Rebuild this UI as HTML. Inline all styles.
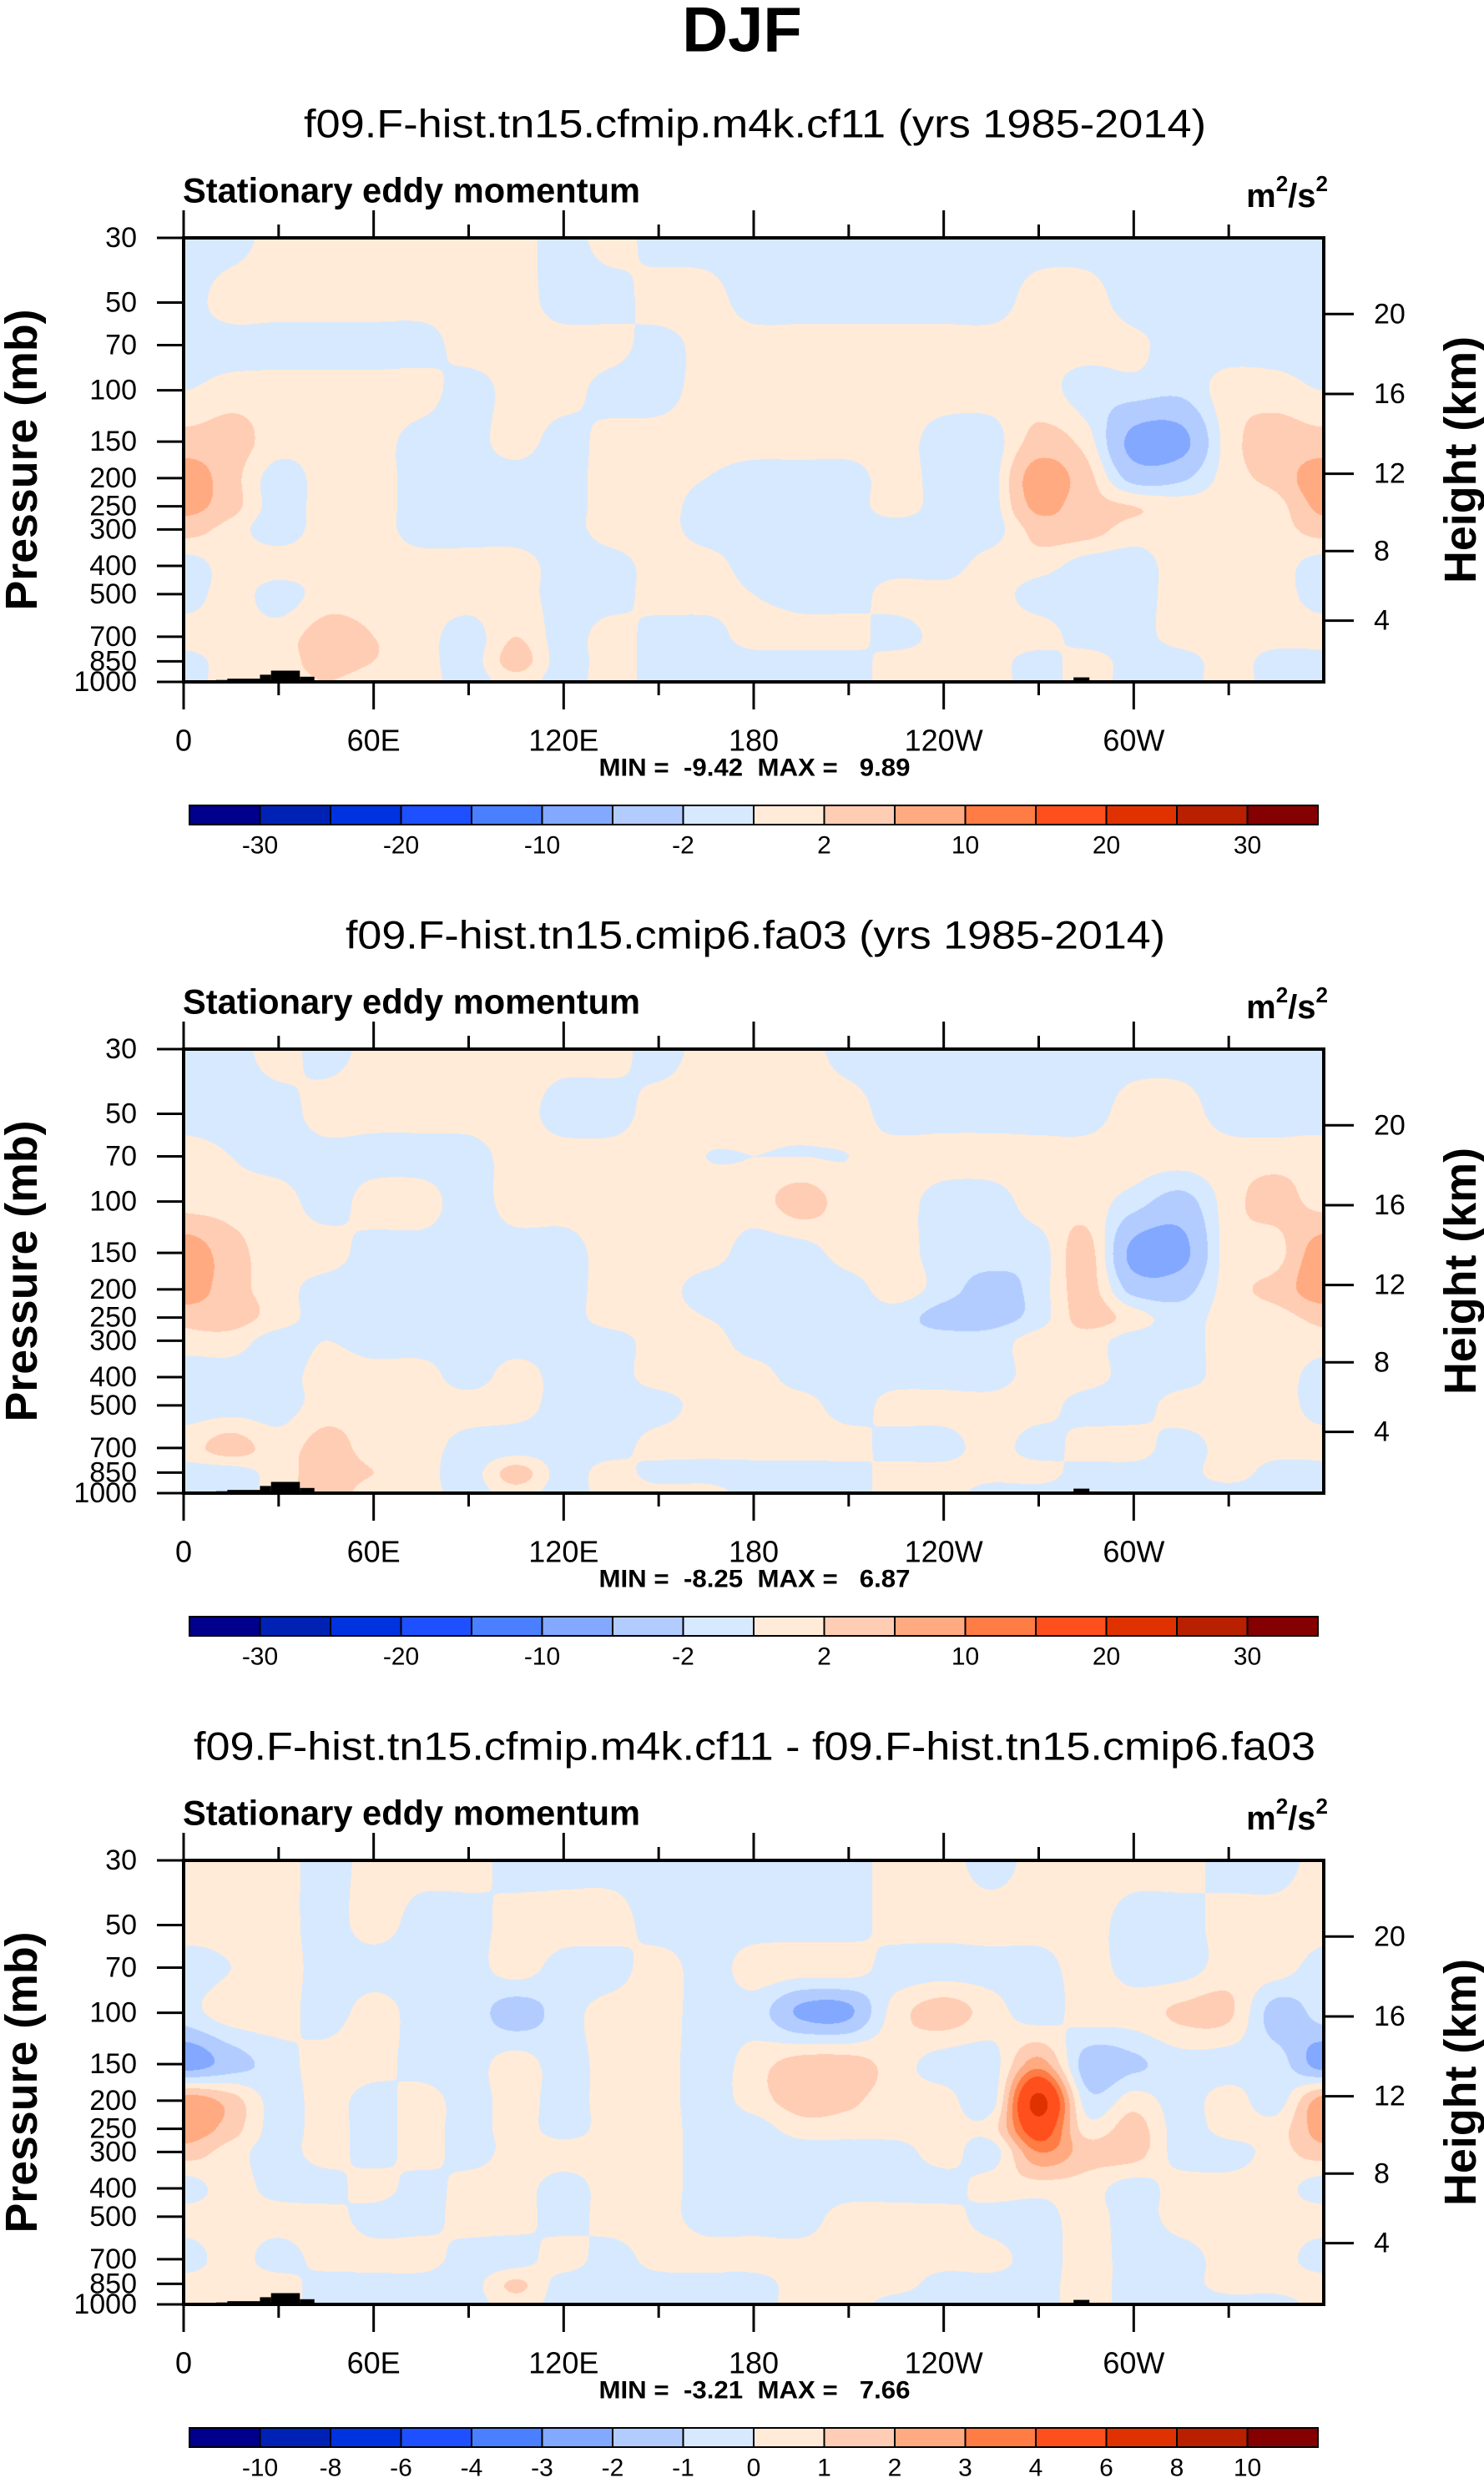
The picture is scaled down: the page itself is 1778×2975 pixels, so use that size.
<!DOCTYPE html>
<html><head><meta charset="utf-8"><title>DJF Stationary eddy momentum</title>
<style>
html,body{margin:0;padding:0;background:#fff;}
#wrap{position:relative;width:1778px;height:2975px;overflow:hidden;}
canvas{position:absolute;left:220px;}
svg{position:absolute;left:0;top:0;}
text{font-family:"Liberation Sans",Arial,sans-serif;fill:#000;}
</style></head>
<body>
<div id="wrap">
<canvas id="c0" width="1366" height="532" style="top:285px"></canvas>
<canvas id="c1" width="1366" height="532" style="top:1257px"></canvas>
<canvas id="c2" width="1366" height="532" style="top:2229px"></canvas>
<svg id="svg" width="1778" height="2975" xmlns="http://www.w3.org/2000/svg"></svg>
</div>
<script>
// ---- data ----
const pressureLevels = [30,50,70,100,150,200,250,300,400,500,700,850,1000];
const lonStep = 15; // 24 columns, 0..345
const heightTicks = [4,8,12,16,20];
const xTickLons = [0,60,120,180,240,300];
const xTickLabels = ["0","60E","120E","180","120W","60W"];
const colors16 = ['#00008c','#0022b4','#0033e0','#1e50ff','#4a7fff','#82a8ff','#b2ccff','#d6e9ff','#ffebd8','#ffcdb4','#ffaa80','#ff7c44','#ff4f1c','#e03200','#b82000','#850000'];
const levelsA = [-30,-25,-20,-15,-10,-5,-2,0,2,5,10,15,20,25,30];
const levelsB = [-10,-8,-6,-4,-3,-2,-1,0,1,2,3,4,6,8,10];
const cbLabelsA = ["-30","-20","-10","-2","2","10","20","30"];
const cbLabelIdxA = [0,2,4,6,8,10,12,14];
const cbLabelsB = ["-10","-8","-6","-4","-3","-2","-1","0","1","2","3","4","6","8","10"];
const cbLabelIdxB = [0,1,2,3,4,5,6,7,8,9,10,11,12,13,14];
const titles = ["f09.F-hist.tn15.cfmip.m4k.cf11 (yrs 1985-2014)","f09.F-hist.tn15.cmip6.fa03 (yrs 1985-2014)","f09.F-hist.tn15.cfmip.m4k.cf11 - f09.F-hist.tn15.cmip6.fa03"];
const minVals = ["-9.42","-8.25","-3.21"];
const maxVals = ["9.89","6.87","7.66"];
const topoStart = [10.3,13.8,24.1,27.6,36.7,100,110,281,286];
const topoEnd   = [13.8,24.1,27.6,36.7,41.3,103,189,286,311];
const topoP     = [985,975,945,915,960,990,993,965,990];

const field1 = [
[-1,-1,1,1,1,1,1,1,-1,1,-1,-1,-1,-1,-1,-1,-1,-1,-1,-1,-1,-1,-1,-1],
[-1,1,1,1,1,1,1,1,-1,-1,1,1,-1,-1,-1,-1,-1,-1,1,1,-1,-1,-1,-1],
[-1,-1,-1,-1,-1,-1,1,1,1,1,-1,1,1,1,1,1,1,1,1,1,0.5,-1,-1,-1],
[0,1,1,1,1,1,-1,1,1,-1,-1,1,1,1,1,1,1,1,1,-1,-1,-1.5,1,1],
[3,3,1,1,1,-1,-1,1,-1,1,1,1,1,1,1,1,-1,-1,3,1,-6,-6,1,3],
[7,3,-1,1,1,-1,-1,-1,-1,1,1,0,-1,-1,-1,1,-1,-1,7,3,-3,-2.5,1,3],
[6,3,-1,1,1,-1,-1,-1,-1,1,1,-1,-1,-1,-1,1,-1,-1,6,3,2,1,1,1],
[3,1,-1,1,1,-1,-1,-1,-1,1,1,-1,-1,-1,-1,-1,-1,-1,3,3,1,1,1,1],
[-1,1,1,1,1,1,1,1,-1,-1,1,1,-1,-1,-1,-1,-1,1,1,-1,-1,1,1,1],
[-1,1,-1,1,1,1,1,1,-1,-1,1,1,0,-1,-1,1,1,1,-1,-1,-1,1,1,1],
[1,1,1,3,2,1,-1,2,-1,1,-1,-1,1,1,1,-1,1,1,1,-1,-1,1,1,1],
[-1,1,1,3,2,1,-1,3,-1,1,-1,-1,-1,-1,-1,1,1,1,-1,1,-1,-1,1,-1],
[-1,1,1,2,1,1,-1,1,-1,1,-1,-1,-1,-1,-1,1,1,1,-1,1,-1,-1,1,-1]
];
const field2 = [
[-1,-1,1,-1,1,1,1,1,1,1,-1,1,1,1,-1,-1,-1,-1,-1,-1,-1,-1,-1,-1],
[-1,-1,-1,1,1,1,1,1,-1,-1,1,1,1,1,1,-1,-1,-1,-1,-1,1,1,-1,-1],
[1,0,-1,-1,-1,-1,-1,1,1,1,1,0,0,0,0,1,1,1,1,1,1,1,1,1],
[1,1,1,-1,1,1,-1,1,1,1,1,1,1,3,1,1,-1,-1,1,1,-1,-3,1,3],
[7,3,1,1,-1,-1,-1,-1,-1,1,1,1,-1,-1,1,1,-1,-1,-1,3,-6,-6,1,1],
[7,3,1,-1,-1,-1,-1,-1,-1,1,1,-1,-1,-1.5,-1,1,-1,-3,-1,3,-3,-3,1,3],
[3,3,1,-1,-1,-1,-1,-1,-1,1,1,0,-1,-1,-1,-1,-3,-3,-1,3,1,-1,1,1],
[1,1,-1,0,-1,-1,-1,-1,-1,-1,1,1,-1,-1,-1,-1,-1,-1,1,1,-1,-1,1,1],
[-1,-1,-1,1,1,1,-1,1,-1,-1,1,1,1,-1,-1,-1,-1,-1,1,1,-1,-1,1,1],
[-1,-1,-1,1,1,1,1,1,-1,-1,-1,1,1,1,-1,1,1,1,1,-1,-1,1,1,1],
[1,3,1,3,1,1,-1,-1,-1,-1,1,1,1,1,1,-1,-1,1,-1,1,1,-1,1,1],
[-1,-1,1,3,2,1,-1,3,-1,1,-1,-1,-1,-1,-1,1,1,1,1,-1,-1,-1,1,-1],
[-1,-1,1,3,1,1,-1,1,-1,1,1,1,-1,-1,-1,1,1,-1,-1,-1,-1,-1,-1,-1]
];
const field3 = [
[.5,.5,.5,-.5,.5,.5,.5,-.5,-.5,-.5,-.5,-.5,-.5,-.5,-.5,.5,.5,-.5,.5,.5,.5,.5,-.5,-.5],
[.5,.5,.5,-.5,.5,-.5,-.5,.5,.5,.5,-.5,-.5,-.5,-.5,-.5,.5,.5,.5,.5,.5,-.5,-.5,.5,.5],
[-.5,0,.5,-.5,-.5,-.5,-.5,.5,-.5,-.5,.5,-.5,.5,.5,.5,-.5,-.5,-.5,-.5,.5,-.5,-.5,.5,.5],
[-.5,.5,.5,-.5,.5,-.5,-.5,-1.5,-.5,.5,.5,-.5,-.5,-2.2,-2.2,.5,1.5,.5,-.5,.5,.5,1.2,1.2,-1.5],
[-2.5,-1.5,-.5,.5,.5,-.5,-.5,.5,-.5,.5,.5,-.5,.5,1.5,1.5,.5,-.5,-.5,2.5,-1.5,-1.2,-.5,-.5,-.5],
[2.5,1.5,-.5,.5,-.5,.5,-.5,.5,-.5,.5,.5,-.5,.5,1.5,1.2,.5,.5,-.5,6.5,-.5,.5,-.5,.5,-.5],
[2.5,1.5,-.5,.5,-.5,.5,-.5,.5,-.5,.5,.5,-.5,-.5,.5,.5,.5,.5,.5,5,.5,1.5,-.5,.5,.5],
[1.5,.5,-.5,.5,-.5,.5,-.5,.5,.5,.5,.5,-.5,-.5,-.5,-.5,-.5,.5,-.5,3,1.5,1.5,-.5,-.5,.5],
[-.5,.5,-.5,-.5,.5,-.5,.5,.5,-.5,.5,.5,-.5,-.5,-.5,-.5,-.5,-.5,.5,.5,.5,-.5,.5,.5,.5],
[.5,.5,.5,.5,-.5,-.5,.5,.5,-.5,.5,.5,-.5,-.5,-.5,.5,.5,.5,-.5,-.5,.5,-.5,.5,.5,.5],
[-.5,.5,-.5,.5,.5,.5,-.5,-.5,.5,-.5,.5,.5,.5,.5,.5,.5,.5,.5,-.5,.5,-.5,-.5,.5,.5],
[.5,.5,.5,-.5,-.5,-.5,-.5,1.2,-.5,-.5,-.5,-.5,-.5,.5,.5,.5,-.5,-.5,-.5,.5,-.5,-.5,.5,.5],
[.5,.5,.5,-.5,-.5,-.5,-.5,.5,-.5,-.5,-.5,-.5,-.5,.5,.5,-.5,-.5,-.5,-.5,.5,-.5,-.5,-.5,-.5]
];

// ---- layout ----
const FX0 = 220, FW = 1366, FH = 532;
const panelTops = [285, 1257, 2229];
const fields = [field1, field2, field3];
const levelSets = [levelsA, levelsA, levelsB];
const LP0 = Math.log10(30), LP1 = Math.log10(1000);
function yOfP(p){ return (Math.log10(p) - LP0) / (LP1 - LP0) * FH; }
function xOfLon(l){ return l / 360 * FW; }
function pOfZkm(z){ const m = z*1000; if (m <= 11000) return 1013.25*Math.pow(1-2.25577e-5*m, 5.25588); return 226.32*Math.exp(-(m-11000)/6341.6); }
function hexToRgb(h){ return [parseInt(h.substr(1,2),16),parseInt(h.substr(3,2),16),parseInt(h.substr(5,2),16)]; }
const rgb16 = colors16.map(hexToRgb);
function cr(p0,p1,p2,p3,t){ return 0.5*((2*p1)+(-p0+p2)*t+(2*p0-5*p1+4*p2-p3)*t*t+(-p0+3*p1-3*p2+p3)*t*t*t); }

// ---- fill contours ----
const logP = pressureLevels.map(p => Math.log10(p));
fields.forEach((field, k) => {
  const cv = document.getElementById('c' + k);
  const ctx = cv.getContext('2d');
  const img = ctx.createImageData(FW, FH);
  const levels = levelSets[k];
  const ncol = field[0].length, nrow = field.length;
  // precompute column-interpolated rows per pixel x
  const colInterp = [];
  for (let r = 0; r < nrow; r++) {
    const row = field[r], arr = new Float32Array(FW);
    for (let px = 0; px < FW; px++) {
      const c = (px + 0.5) / FW * 360 / lonStep;
      const ci = Math.floor(c), s = c - ci;
      const a = row[(ci-1+ncol)%ncol], b = row[ci%ncol], d = row[(ci+1)%ncol], e = row[(ci+2)%ncol];
      arr[px] = cr(a,b,d,e,s);
    }
    colInterp.push(arr);
  }
  for (let py = 0; py < FH; py++) {
    const lp = LP0 + (py + 0.5) / FH * (LP1 - LP0);
    let i = 0; while (i < logP.length - 2 && lp > logP[i+1]) i++;
    const t = Math.min(1, Math.max(0, (lp - logP[i]) / (logP[i+1] - logP[i])));
    const R0 = colInterp[Math.max(0,i-1)], R1 = colInterp[i], R2 = colInterp[i+1], R3 = colInterp[Math.min(nrow-1,i+2)];
    for (let px = 0; px < FW; px++) {
      const v = cr(R0[px], R1[px], R2[px], R3[px], t);
      let ci = 0; while (ci < levels.length && v >= levels[ci]) ci++;
      const col = rgb16[ci]; const o = (py*FW + px)*4;
      img.data[o]=col[0]; img.data[o+1]=col[1]; img.data[o+2]=col[2]; img.data[o+3]=255;
    }
  }
  ctx.putImageData(img, 0, 0);
});

// ---- svg axes ----
const svg = document.getElementById('svg');
const NS = 'http://www.w3.org/2000/svg';
function el(tag, attrs, parent){ const e = document.createElementNS(NS, tag); for (const a in attrs) e.setAttribute(a, attrs[a]); (parent||svg).appendChild(e); return e; }

let t0 = el('text', {x:889, y:36, 'font-size':76, 'font-weight':'bold', 'text-anchor':'middle', 'dominant-baseline':'central'});


t0.textContent = 'DJF';

panelTops.forEach((top, k) => {
  const g = el('g', {});
  
  
  const bot = top + FH, xr = FX0 + FW;
  const titleX = [364, 414, 232], titleW = [1081, 982, 1344];
  let tt = el('text', {x:titleX[k], y:top-137, 'font-size':47, textLength:titleW[k], lengthAdjust:'spacingAndGlyphs', 'dominant-baseline':'central'}, g);
  
  
  tt.textContent = titles[k];
  let ls = el('text', {x:219, y:top-57, 'font-size':42, 'font-weight':'bold', textLength:548, lengthAdjust:'spacingAndGlyphs', 'dominant-baseline':'central'}, g);
  
  
  ls.textContent = 'Stationary eddy momentum';
  let un = el('text', {x:1591, y:top-50, 'font-size':40, 'font-weight':'bold', 'text-anchor':'end', 'dominant-baseline':'central'}, g);
  
  
  un.innerHTML = 'm<tspan font-size="26" dy="-15">2</tspan><tspan dy="15">/s</tspan><tspan font-size="26" dy="-15">2</tspan>';
  for (let i = 0; i < topoStart.length; i++) {
    const x0 = FX0 + xOfLon(topoStart[i]), x1 = FX0 + xOfLon(topoEnd[i]);
    const y0 = top + yOfP(topoP[i]);
    const r = el('rect', {x:x0, y:y0, width:x1-x0, height:bot-y0, fill:'#000'}, g);
    
    
  }
  const fr = el('rect', {x:FX0, y:top, width:FW, height:FH, fill:'none', stroke:'#000', 'stroke-width':4}, g);
  
  
  for (let lon = 0; lon <= 330; lon += 30) {
    const x = FX0 + xOfLon(lon); const major = lon % 60 === 0; const L = major ? 33 : 16;
    const a = el('line', {x1:x, x2:x, y1:top, y2:top-L, stroke:'#000', 'stroke-width':3}, g);
    
    
    const b = el('line', {x1:x, x2:x, y1:bot, y2:bot+L, stroke:'#000', 'stroke-width':3}, g);
    
    
  }
  xTickLons.forEach((lon, i) => {
    const tl = el('text', {x:FX0 + xOfLon(lon), y:bot+70, 'font-size':36, 'text-anchor':'middle', 'dominant-baseline':'central'}, g);
    
    
    tl.textContent = xTickLabels[i];
  });
  pressureLevels.forEach(p => {
    const y = top + yOfP(p);
    const a = el('line', {x1:FX0-32, x2:FX0, y1:y, y2:y, stroke:'#000', 'stroke-width':3}, g);
    
    
    const tl = el('text', {x:FX0-56, y:y, 'font-size':34, 'text-anchor':'end', 'dominant-baseline':'central'}, g);
    
    
    tl.textContent = String(p);
  });
  heightTicks.forEach(z => {
    const y = top + yOfP(pOfZkm(z));
    const a = el('line', {x1:xr, x2:xr+36, y1:y, y2:y, stroke:'#000', 'stroke-width':3}, g);
    
    
    const tl = el('text', {x:xr+60, y:y, 'font-size':34, 'dominant-baseline':'central'}, g);
    
    
    tl.textContent = String(z);
  });
  const cy = top + FH/2;
  const yl = el('text', {x:26, y:cy, 'font-size':54, 'font-weight':'bold', 'text-anchor':'middle', 'dominant-baseline':'central', transform:'rotate(-90 26 '+cy+')', textLength:361, lengthAdjust:'spacingAndGlyphs'}, g);
  
  
  yl.textContent = 'Pressure (mb)';
  const cy2 = top + 266;
  const yr = el('text', {x:1750, y:cy2, 'font-size':54, 'font-weight':'bold', 'text-anchor':'middle', 'dominant-baseline':'central', transform:'rotate(-90 1750 '+cy2+')', textLength:296, lengthAdjust:'spacingAndGlyphs'}, g);
  
  
  yr.textContent = 'Height (km)';
  const mm = el('text', {x:904, y:bot+103, 'font-size':30, 'font-weight':'bold', 'text-anchor':'middle', 'dominant-baseline':'central', textLength:373, lengthAdjust:'spacingAndGlyphs', style:'white-space:pre'}, g);
  
  
  mm.textContent = 'MIN =  ' + minVals[k] + '  MAX =   ' + maxVals[k];
  const cbTop = bot + 148, cbH = 23, cbX = 227, cbW = 1352, bw = cbW/16;
  const cg = el('g', {}, g);
  
  
  colors16.forEach((c, i) => {
    const r = el('rect', {x:cbX + i*bw, y:cbTop, width:bw, height:cbH, fill:c, stroke:'#000', 'stroke-width':2}, cg);
    
    
  });
  const labs = k < 2 ? cbLabelsA : cbLabelsB, idx = k < 2 ? cbLabelIdxA : cbLabelIdxB;
  labs.forEach((s, i) => {
    const tl = el('text', {x:cbX + bw*(idx[i]+1), y:cbTop + 48, 'font-size':30, 'text-anchor':'middle', 'dominant-baseline':'central'}, cg);
    
    
    tl.textContent = s;
  });
});
</script>
</body></html>
